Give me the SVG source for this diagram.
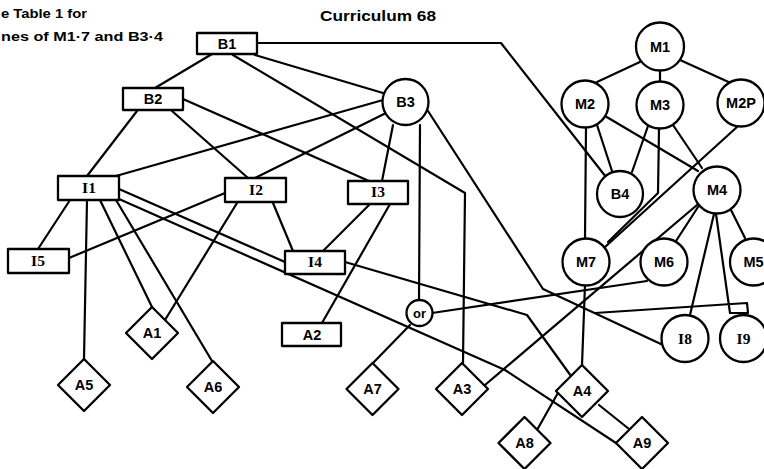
<svg xmlns="http://www.w3.org/2000/svg" width="764" height="469" viewBox="0 0 764 469">
  <style>
    .bg { fill: #ffffff; }
    .edge { fill: none; stroke: #000; stroke-width: 2.2; stroke-linejoin: round; stroke-linecap: round; }
    .box, .circ, .dia { fill: #fff; stroke: #000; stroke-width: 2.3; stroke-linejoin: round; }
    .lbl { font-family: "Liberation Sans", Arial, sans-serif; font-weight: bold; font-size: 14.5px; text-anchor: middle; fill: #000; }
    .ser { font-family: "Liberation Serif", "Times New Roman", serif; font-weight: bold; font-size: 15.5px; text-anchor: middle; fill: #000; }
    .note { font-family: "Liberation Sans", Arial, sans-serif; font-weight: bold; font-size: 13px; fill: #000; }
    .title { font-family: "Liberation Sans", Arial, sans-serif; font-weight: bold; font-size: 15px; fill: #000; }
  </style>
  <defs>
    <polygon id="diamond" points="0,-26 26,0 0,26 -26,0"/>
  </defs>
  <rect class="bg" x="0" y="0" width="764" height="469"/>

  <!-- headings -->
  <text class="note" x="1" y="18" textLength="86" lengthAdjust="spacingAndGlyphs">e Table 1 for</text>
  <text class="note" x="1" y="41" textLength="162" lengthAdjust="spacingAndGlyphs">nes of M1·7 and B3·4</text>
  <text class="title" x="320" y="21" textLength="116" lengthAdjust="spacingAndGlyphs">Curriculum 68</text>

  <!-- prerequisite links -->
  <g id="connectors">
    <!-- from B1 -->
    <line class="edge" x1="212" y1="54" x2="155" y2="88"/>
    <line class="edge" x1="255" y1="55" x2="383" y2="93"/>
    <polyline class="edge" points="233,55 465,193 463,363"/>
    <polyline class="edge" points="257,43 501,43 606,177"/>
    <!-- from B2 -->
    <line class="edge" x1="137" y1="111" x2="87" y2="176"/>
    <line class="edge" x1="172" y1="111" x2="248" y2="178"/>
    <line class="edge" x1="183" y1="99" x2="369" y2="181"/>
    <!-- from B3 -->
    <line class="edge" x1="383" y1="100" x2="116" y2="176"/>
    <line class="edge" x1="384" y1="114" x2="255" y2="178"/>
    <line class="edge" x1="393" y1="125" x2="382" y2="181"/>
    <line class="edge" x1="420" y1="125" x2="419" y2="300"/>
    <polyline class="edge" points="428,111 543,289 663,345"/>
    <polyline class="edge" points="595,313 747,303 748,313 730,313"/>
    <!-- from I1 -->
    <line class="edge" x1="70" y1="200" x2="38" y2="249"/>
    <line class="edge" x1="87" y1="200" x2="84" y2="359"/>
    <line class="edge" x1="100" y1="200" x2="152" y2="307"/>
    <line class="edge" x1="116" y1="200" x2="212" y2="361"/>
    <line class="edge" x1="119" y1="189" x2="285" y2="262"/>
    <polyline class="edge" points="119,199 505,370 616,443"/>
    <!-- from I2 -->
    <line class="edge" x1="225" y1="193" x2="69" y2="258"/>
    <line class="edge" x1="237" y1="203" x2="165" y2="320"/>
    <line class="edge" x1="273" y1="203" x2="293" y2="251"/>
    <!-- from I3 -->
    <line class="edge" x1="370" y1="204" x2="323" y2="251"/>
    <line class="edge" x1="390" y1="204" x2="322" y2="323"/>
    <!-- from I4 -->
    <polyline class="edge" points="345,262 527,315 571,376"/>
    <!-- from or -->
    <line class="edge" x1="432" y1="313" x2="647" y2="281"/>
    <line class="edge" x1="410" y1="325" x2="373" y2="363"/>
    <!-- from M1 -->
    <line class="edge" x1="642" y1="61" x2="597" y2="82"/>
    <line class="edge" x1="660" y1="70" x2="660" y2="82"/>
    <line class="edge" x1="680" y1="60" x2="733" y2="84"/>
    <!-- from M2 -->
    <line class="edge" x1="597" y1="125" x2="612" y2="171"/>
    <line class="edge" x1="586" y1="127" x2="585" y2="238"/>
    <line class="edge" x1="605" y1="116" x2="698" y2="171"/>
    <!-- from M3 -->
    <line class="edge" x1="648" y1="126" x2="632" y2="172"/>
    <polyline class="edge" points="659,129 658,193 608,242"/>
    <line class="edge" x1="673" y1="125" x2="702" y2="168"/>
    <!-- from M2P -->
    <line class="edge" x1="737" y1="127" x2="605" y2="247"/>
    <!-- from M4 -->
    <line class="edge" x1="698" y1="207" x2="676" y2="241"/>
    <line class="edge" x1="731" y1="210" x2="745" y2="238"/>
    <line class="edge" x1="697" y1="205" x2="485" y2="385"/>
    <line class="edge" x1="714" y1="214" x2="690" y2="315"/>
    <line class="edge" x1="716" y1="214" x2="730" y2="313"/>
    <!-- from M7 -->
    <line class="edge" x1="585" y1="285" x2="582" y2="365"/>
    <!-- from A4 -->
    <line class="edge" x1="563" y1="384" x2="537" y2="430"/>
    <line class="edge" x1="599" y1="405" x2="629" y2="429"/>
  </g>

  <!-- B nodes -->
  <g id="B1"><rect class="box" x="197" y="33" width="60" height="21"/><text class="lbl" x="227" y="49">B1</text></g>
  <g id="B2"><rect class="box" x="123" y="88" width="60" height="22"/><text class="lbl" x="153" y="104">B2</text></g>
  <g id="B3"><circle class="circ" cx="405.5" cy="102" r="23"/><text class="lbl" x="405.5" y="107">B3</text></g>
  <g id="B4"><circle class="circ" cx="620" cy="194" r="23"/><text class="lbl" x="620" y="199">B4</text></g>

  <!-- M nodes -->
  <g id="M1"><circle class="circ" cx="660" cy="46.5" r="24"/><text class="lbl" x="660" y="52">M1</text></g>
  <g id="M2"><circle class="circ" cx="585" cy="104" r="23.5"/><text class="lbl" x="585" y="109">M2</text></g>
  <g id="M3"><circle class="circ" cx="660" cy="105" r="23.5"/><text class="lbl" x="660" y="110">M3</text></g>
  <g id="M2P"><circle class="circ" cx="741" cy="103" r="23.5"/><text class="lbl" x="741" y="108">M2P</text></g>
  <g id="M4"><circle class="circ" cx="717" cy="190" r="23.5"/><text class="lbl" x="717" y="195">M4</text></g>
  <g id="M7"><circle class="circ" cx="586" cy="262" r="23.5"/><text class="lbl" x="586" y="267">M7</text></g>
  <g id="M6"><circle class="circ" cx="664" cy="262" r="23.5"/><text class="lbl" x="664" y="267">M6</text></g>
  <g id="M5"><circle class="circ" cx="753.5" cy="262" r="23.5"/><text class="lbl" x="753.5" y="267">M5</text></g>

  <!-- I nodes -->
  <g id="I1"><rect class="box" x="58" y="176" width="61" height="24"/><text class="ser" x="89" y="193">I1</text></g>
  <g id="I2"><rect class="box" x="225" y="178" width="61" height="24"/><text class="ser" x="256" y="195">I2</text></g>
  <g id="I3"><rect class="box" x="348" y="181" width="60" height="23"/><text class="ser" x="378" y="197">I3</text></g>
  <g id="I4"><rect class="box" x="285" y="251" width="60" height="23"/><text class="ser" x="315" y="267">I4</text></g>
  <g id="I5"><rect class="box" x="8" y="249" width="61" height="24"/><text class="ser" x="38" y="266">I5</text></g>
  <g id="I8"><circle class="circ" cx="685" cy="338.5" r="23.5"/><text class="ser" x="685" y="344">I8</text></g>
  <g id="I9"><circle class="circ" cx="743.5" cy="338.5" r="23.5"/><text class="ser" x="743.5" y="344">I9</text></g>

  <!-- alternative junction -->
  <g id="OR"><circle class="circ" cx="419.5" cy="313" r="13"/><text class="lbl" x="419.5" y="317.5" style="font-size:13px">or</text></g>

  <!-- A nodes -->
  <g id="A1"><use href="#diamond" class="dia" x="152" y="333"/><text class="lbl" x="152" y="338">A1</text></g>
  <g id="A2"><rect class="box" x="282" y="323" width="59" height="23"/><text class="lbl" x="312" y="340">A2</text></g>
  <g id="A3"><use href="#diamond" class="dia" x="462" y="389"/><text class="lbl" x="462" y="394">A3</text></g>
  <g id="A4"><use href="#diamond" class="dia" x="582" y="391"/><text class="lbl" x="582" y="396">A4</text></g>
  <g id="A5"><use href="#diamond" class="dia" x="84" y="385"/><text class="lbl" x="84" y="390">A5</text></g>
  <g id="A6"><use href="#diamond" class="dia" x="213" y="387"/><text class="lbl" x="213" y="392">A6</text></g>
  <g id="A7"><use href="#diamond" class="dia" x="372.5" y="389"/><text class="lbl" x="372.5" y="394">A7</text></g>
  <g id="A8"><use href="#diamond" class="dia" x="524.5" y="443"/><text class="lbl" x="524.5" y="448">A8</text></g>
  <g id="A9"><use href="#diamond" class="dia" x="642" y="443"/><text class="lbl" x="642" y="448">A9</text></g>
</svg>
